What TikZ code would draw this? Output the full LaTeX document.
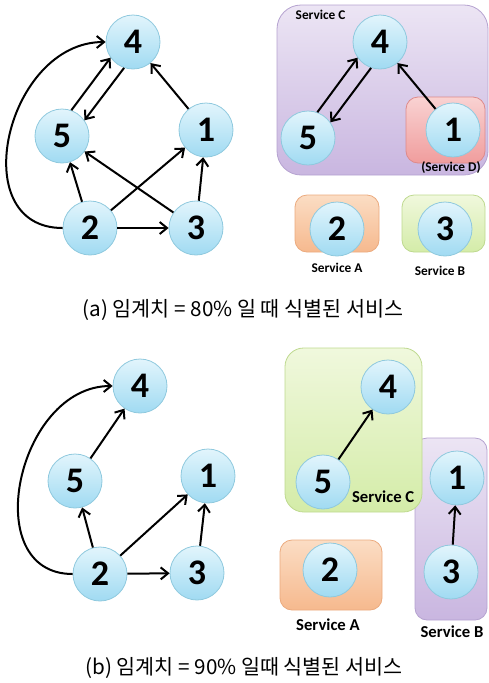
\documentclass[tikz,border=0pt]{standalone}
\usepackage{fontspec}
\setmainfont{Carlito}
\newfontfamily\kfont{Noto Sans CJK KR}
\usetikzlibrary{arrows.meta}
\definecolor{nodetop}{HTML}{E2F5FC}
\definecolor{nodebot}{HTML}{A0DAF2}
\definecolor{nodeline}{HTML}{8FC9DE}
\definecolor{purptop}{HTML}{ECE5F4}
\definecolor{purpbot}{HTML}{C9B6E0}
\definecolor{purpline}{HTML}{B5A2D0}
\definecolor{orantop}{HTML}{FBDDC4}
\definecolor{oranbot}{HTML}{F6B98E}
\definecolor{oranline}{HTML}{EBAA7E}
\definecolor{greetop}{HTML}{F0F8DD}
\definecolor{greebot}{HTML}{D4ECA8}
\definecolor{greeline}{HTML}{BED98F}
\definecolor{redtop}{HTML}{F9D2D2}
\definecolor{redbot}{HTML}{F09D9D}
\definecolor{redline}{HTML}{DE8A8A}
\tikzset{
    svcnode/.style={ % the numbered services
        circle,
        minimum size=40.5pt,
        inner sep=0pt,
        draw=nodeline,
        line width=0.6pt,
        top color=nodetop,
        bottom color=nodebot,
        font=\fontsize{27}{27}\selectfont\bfseries
    },
    every edge/.style={ % dependencies
        draw,
        -{Straight Barb[length=5.5pt,width=9pt]},
        line width=1.5pt
    },
    svcbox/.style={ % grouping of services
        rounded corners=9pt,
        draw=#1line,
        line width=0.6pt,
        top color=#1top,
        bottom color=#1bot
    },
    svclabel/.style={font=\fontsize{10}{10}\selectfont\bfseries},
    caption/.style={font=\fontsize{15.5}{15.5}\selectfont\kfont}
}
\begin{document}
\begin{tikzpicture}[x=0.75pt, y=-0.75pt]
    \useasboundingbox (0,0) rectangle (489,683);

    % (a) graph
    \node[svcnode] (a4) at (133,42)  {4};
    \node[svcnode] (a5) at (62,136)  {5};
    \node[svcnode] (a1) at (206,130) {1};
    \node[svcnode] (a2) at (90,228)  {2};
    \node[svcnode] (a3) at (196,228) {3};

    \draw
        (a5.70)   edge (a4.215)
        (a4.251)  edge (a5.35)
        (a1)      edge (a4)
        (a2)      edge (a5)
        (a2)      edge (a1)
        (a3)      edge (a5)
        (a3)      edge (a1)
        (a2)      edge (a3)
        (a2.west) edge[out=180, in=180, looseness=1.33] (a4.west)
    ;

    % (a) services
    \path[svcbox=purp, rounded corners=18pt] (277,5) rectangle (488,175);
    \path[svcbox=red]  (406,97)  rectangle (485,163);
    \path[svcbox=oran] (295,195) rectangle (379,252);
    \path[svcbox=gree] (402,195) rectangle (485,252);
    \node[svclabel, anchor=west] (laC) at (291,15) {Service C};
    \node[svclabel] (laD) at (451,168) {(Service D)};
    \node[svclabel] (laA) at (337,268) {Service A};
    \node[svclabel] (laB) at (440,271) {Service B};

    \node[svcnode] (s4) at (380,42)  {4};
    \node[svcnode] (s5) at (308,138) {5};
    \node[svcnode] (s1) at (453,130) {1};
    \node[svcnode] (s2) at (337,229) {2};
    \node[svcnode] (s3) at (445,229) {3};

    \draw
        (s5.70)  edge (s4.215)
        (s4.251) edge (s5.35)
        (s1)     edge (s4)
    ;

    \node[caption] (capa) at (243,310) {(a) 임계치 = 80\% 일 때 식별된 서비스};

    % (b) graph
    \node[svcnode] (b4) at (140,386) {4};
    \node[svcnode] (b5) at (75,481)  {5};
    \node[svcnode] (b1) at (208,476) {1};
    \node[svcnode] (b2) at (100,574) {2};
    \node[svcnode] (b3) at (197,573) {3};

    \draw
        (b5)      edge (b4)
        (b2)      edge (b5)
        (b2)      edge (b1)
        (b3)      edge (b1)
        (b2)      edge (b3)
        (b2.west) edge[out=180, in=180, looseness=1.27] (b4.west)
    ;

    % (b) services
    \path[svcbox=purp] (415,438) rectangle (487,620);
    \path[svcbox=gree, rounded corners=14pt] (285,348) rectangle (422,512);
    \path[svcbox=oran] (280,540) rectangle (382,610);
    \node[svclabel, font=\fontsize{12.5}{12.5}\selectfont\bfseries, anchor=east] (lbC) at (419,497) {Service C};
    \node[svclabel, font=\fontsize{12.5}{12.5}\selectfont\bfseries] (lbA) at (328,625) {Service A};
    \node[svclabel, font=\fontsize{12.5}{12.5}\selectfont\bfseries] (lbB) at (452,632) {Service B};

    \node[svcnode] (t4) at (388,387) {4};
    \node[svcnode] (t5) at (323,482) {5};
    \node[svcnode] (t1) at (457,478) {1};
    \node[svcnode] (t2) at (330,570) {2};
    \node[svcnode] (t3) at (451,572) {3};

    \draw
        (t5) edge (t4)
        (t3) edge (t1)
    ;

    \node[caption] (capb) at (244,668) {(b) 임계치 = 90\% 일때 식별된 서비스};
\end{tikzpicture}
\end{document}
